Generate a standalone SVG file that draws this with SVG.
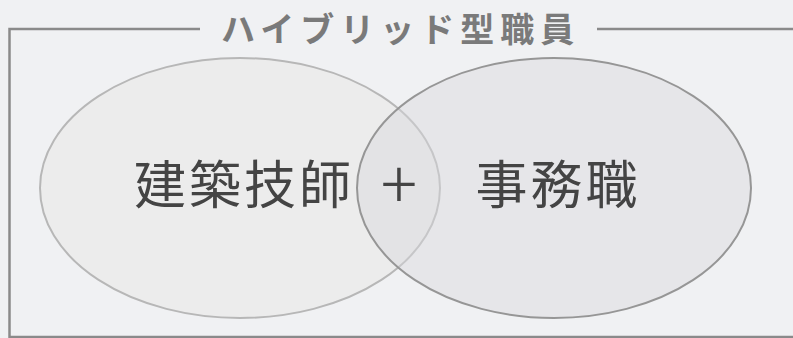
<svg xmlns="http://www.w3.org/2000/svg" width="793" height="338" viewBox="0 0 793 338">
<style>
.frame{fill:none;stroke:#8a8a8a;stroke-width:2.5}
.title{font-family:"Noto Sans CJK JP","Noto Sans",sans-serif;font-size:34px;font-weight:700;fill:#7a7a7a;letter-spacing:6px}
.lbl{font-family:"Noto Sans CJK JP","Noto Sans",sans-serif;font-size:52px;fill:#444;text-anchor:middle}
</style>
<rect width="793" height="338" fill="#f0f1f3"/>
<g id="frame">
<polyline class="frame" points="200,29 9.5,29 9.5,337 793,337"/>
<line class="frame" x1="597" y1="29" x2="793" y2="29"/>
<text class="title" x="221" y="42">ハイブリッド型職員</text>
</g>
<g id="architect">
<ellipse cx="240" cy="188" rx="200" ry="130" fill="#ececec" stroke="#b7b7b7" stroke-width="2"/>
<text class="lbl" x="244" y="204" letter-spacing="3">建築技師</text>
</g>
<g id="clerical">
<ellipse cx="554" cy="188" rx="197" ry="130" fill="#d9dadd" fill-opacity="0.45" stroke="#969696" stroke-width="2"/>
<text class="lbl" x="558" y="204" letter-spacing="3">事務職</text>
</g>
<g id="plus">
<text class="lbl" x="399" y="209" style="font-size:68px;font-weight:300">+</text>
</g>
<g id="connectors"/>
</svg>
